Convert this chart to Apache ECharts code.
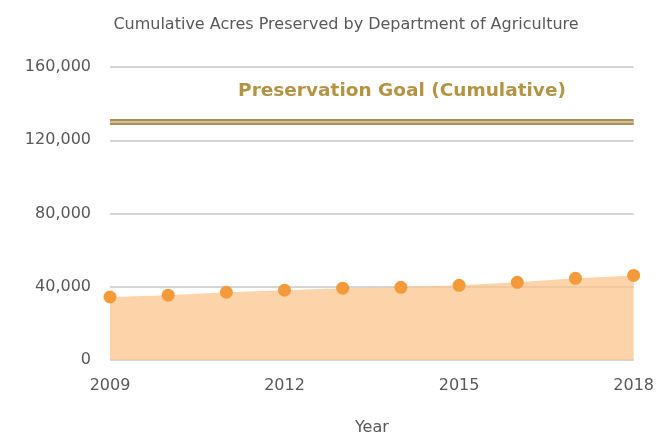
<!DOCTYPE html>
<html>
<head>
<meta charset="utf-8">
<script src="https://cdn.jsdelivr.net/npm/echarts@6/dist/echarts.min.js"></script>
<style>
  html, body { margin: 0; padding: 0; background: #fff; }
  #chart { width: 657px; height: 441px; }
</style>
</head>
<body>
<div id="chart"></div>
<script>
// Years on the horizontal axis
var years = ['2009', '2010', '2011', '2012', '2013', '2014', '2015', '2016', '2017', '2018'];
// Cumulative acres preserved each year
var acresPreserved = [34400, 35400, 37000, 38100, 39200, 39700, 40800, 42400, 44600, 46200];
// Cumulative preservation goal (acres)
var goalAcres = [130000, 130000, 130000, 130000, 130000, 130000, 130000, 130000, 130000, 130000];
// Value axis ticks
var yTicks = [0, 40000, 80000, 120000, 160000];

var chart = echarts.init(document.getElementById('chart'), null, { renderer: 'canvas' });
var textColor = '#595959';
var fontFam = '"DejaVu Sans", Verdana, sans-serif';

chart.setOption({
  animation: false,
  backgroundColor: '#ffffff',
  title: [
    {
      text: 'Cumulative Acres Preserved by Department of Agriculture',
      left: 341, top: 12, textAlign: 'center',
      textStyle: { fontFamily: fontFam, fontSize: 16, fontWeight: 'normal', color: textColor }
    },
    {
      text: 'Preservation Goal (Cumulative)',
      left: 397, top: 77, textAlign: 'center',
      textStyle: { fontFamily: fontFam, fontSize: 18.5, fontWeight: 'bold', color: '#b49442' }
    }
  ],
  grid: { left: 110, right: 19, top: 67, bottom: 70, containLabel: false },
  xAxis: {
    type: 'category',
    data: years,
    boundaryGap: false,
    name: 'Year',
    nameLocation: 'middle',
    nameGap: 60,
    nameTextStyle: { fontFamily: fontFam, fontSize: 16, color: textColor },
    axisLine: { show: false },
    axisTick: { show: false },
    axisLabel: { interval: 2, margin: 18, fontFamily: fontFam, fontSize: 16, color: textColor }
  },
  yAxis: {
    type: 'value',
    min: yTicks[0],
    max: yTicks[yTicks.length - 1],
    interval: yTicks[1] - yTicks[0],
    axisLine: { show: false },
    axisTick: { show: false },
    axisLabel: {
      margin: 19, fontFamily: fontFam, fontSize: 16, color: textColor,
      formatter: function (v) { return v.toLocaleString('en-US'); }
    },
    splitLine: { lineStyle: { color: '#d4d4d4', width: 2 } }
  },
  series: [
    {
      name: 'Acres Preserved (area)',
      type: 'line',
      data: acresPreserved,
      symbol: 'none',
      lineStyle: { width: 0 },
      areaStyle: { color: '#fcc58c', opacity: 0.75 },
      z: 3
    },
    {
      name: 'Acres Preserved',
      type: 'scatter',
      data: acresPreserved,
      symbolSize: 13,
      itemStyle: { color: '#f59a3a', opacity: 1 },
      z: 5
    },
    {
      name: 'Preservation Goal',
      type: 'line',
      data: goalAcres,
      symbol: 'none',
      lineStyle: { color: '#a78f5f', width: 6 },
      z: 4
    },
    {
      name: 'Preservation Goal (inner)',
      type: 'line',
      data: goalAcres,
      symbol: 'none',
      lineStyle: { color: '#e3d199', width: 1.5 },
      z: 4
    }
  ]
});
</script>
</body>
</html>
